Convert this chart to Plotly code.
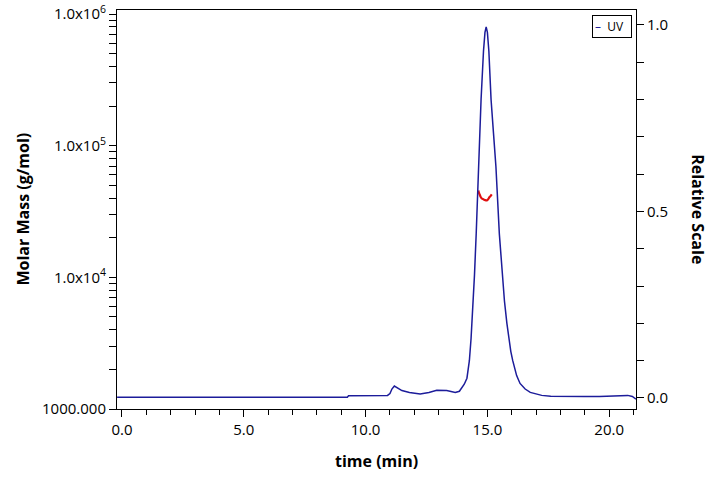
import plotly.graph_objects as go

# UV trace (relative scale, right axis)
uv_time = [-0.2, 9.25, 9.3, 10.9, 11.0, 11.08, 11.18, 11.3, 11.49, 11.8, 12.24, 12.6,
           12.92, 13.33, 13.68, 13.85, 13.95, 14.05, 14.16, 14.26, 14.33, 14.4, 14.47,
           14.54, 14.63, 14.74, 14.84, 14.9, 14.95, 15.0, 15.06, 15.15, 15.25, 15.35,
           15.49, 15.6, 15.7, 15.8, 15.88, 15.96, 16.04, 16.12, 16.2, 16.34, 16.55,
           16.76, 17.0, 17.23, 17.6, 18.26, 19.0, 19.6, 20.03, 20.4, 20.76, 20.95, 21.1]
uv_vals = [0.002, 0.002, 0.006, 0.007, 0.012, 0.024, 0.032, 0.028, 0.02, 0.015, 0.011,
           0.015, 0.021, 0.02, 0.015, 0.018, 0.026, 0.037, 0.053, 0.10, 0.16, 0.24, 0.33,
           0.44, 0.62, 0.80, 0.93, 0.98, 0.995, 0.98, 0.93, 0.80, 0.71, 0.62, 0.44, 0.34,
           0.26, 0.20, 0.16, 0.125, 0.10, 0.078, 0.06, 0.039, 0.024, 0.015, 0.01, 0.007,
           0.005, 0.004, 0.004, 0.004, 0.005, 0.006, 0.007, 0.004, -0.003]

# Molar mass trace (left, log axis)
mm_time = [14.63, 14.65, 14.67, 14.73, 14.78, 14.84, 14.91, 14.98, 15.03, 15.08, 15.13, 15.18]
mm_vals = [45700, 44000, 43100, 40600, 39600, 39100, 38600, 38400, 39200, 40600, 41500, 42700]

x_ticks = [0, 5, 10, 15, 20]
x_labels = ["0.0", "5.0", "10.0", "15.0", "20.0"]
y_major = [1e3, 1e4, 1e5, 1e6]
y_major_labels = ["1000.000", "1.0x10<sup>4</sup>", "1.0x10<sup>5</sup>", "1.0x10<sup>6</sup>"]
y2_ticks = [0.0, 0.5, 1.0]
y2_labels = ["0.0", "0.5", "1.0"]

# minor tick positions
y_minor = [dec * d for dec in y_major[:-1] for d in range(2, 10)]
y2_minor = [round(i * 0.1, 1) for i in range(11) if i % 5 != 0]
x_minor = [i for i in range(0, 22) if i % 5 != 0]

FONT = "Open Sans"
BLUE = "#1c1c9a"
RED = "#e01010"

fig = go.Figure()
fig.add_trace(go.Scatter(x=uv_time, y=uv_vals, mode="lines", yaxis="y2",
                         line=dict(color=BLUE, width=1.5),
                         showlegend=False, name="UV"))
fig.add_trace(go.Scatter(x=mm_time, y=mm_vals, mode="lines", yaxis="y",
                         line=dict(color=RED, width=2.2, shape="spline", smoothing=0.6),
                         showlegend=False, name="Molar Mass"))

fig.update_layout(
    width=720, height=479,
    margin=dict(l=117, r=84, t=10, b=70, autoexpand=False),
    paper_bgcolor="white", plot_bgcolor="white",
    showlegend=False,
    xaxis=dict(range=[-0.205, 21.1], tickvals=x_ticks, ticktext=x_labels,
               showgrid=False, zeroline=False, showline=True, linecolor="black",
               mirror=True, ticks="outside", ticklen=7, tickcolor="black",
               tickfont=dict(family=FONT, size=15, color="black"),
               minor=dict(tickvals=x_minor, ticks="outside", ticklen=5,
                          tickcolor="black")),
    yaxis=dict(type="log", range=[3, 6.031], tickvals=y_major, ticktext=y_major_labels,
               showgrid=False, zeroline=False, showline=True, linecolor="black",
               ticks="outside", ticklen=7, tickcolor="black",
               tickfont=dict(family=FONT, size=15, color="black"),
               minor=dict(tickvals=y_minor, ticks="outside", ticklen=7,
                          tickcolor="black")),
    yaxis2=dict(overlaying="y", side="right", range=[-0.0295, 1.040],
                tickvals=y2_ticks, ticktext=y2_labels,
                showgrid=False, zeroline=False, showline=True, linecolor="black",
                ticks="outside", ticklen=7, tickcolor="black",
                tickfont=dict(family=FONT, size=15, color="black"),
                minor=dict(tickvals=y2_minor, ticks="outside", ticklen=7,
                           tickcolor="black")),
    annotations=[
        dict(text="<b>time (min)</b>", xref="paper", yref="paper", x=0.5, y=-0.13,
             xanchor="center", yanchor="middle", showarrow=False,
             font=dict(family=FONT, size=16, color="black")),
        dict(text="<b>Molar Mass (g/mol)</b>", xref="paper", yref="paper", x=-0.183, y=0.5,
             xanchor="center", yanchor="middle", showarrow=False, textangle=-90,
             font=dict(family=FONT, size=16, color="black")),
        dict(text="<b>Relative Scale</b>", xref="paper", yref="paper", x=1.12, y=0.5,
             xanchor="center", yanchor="middle", showarrow=False, textangle=90,
             font=dict(family=FONT, size=16, color="black")),
        dict(text="<span style='color:%s'>–</span>  UV  " % BLUE, xref="paper", yref="paper",
             x=0.992, y=0.988, xanchor="right", yanchor="top", showarrow=False,
             bordercolor="black", borderwidth=1, borderpad=2, bgcolor="white",
             font=dict(family=FONT, size=12, color="black")),
    ],
)

fig.write_html("out.html")
